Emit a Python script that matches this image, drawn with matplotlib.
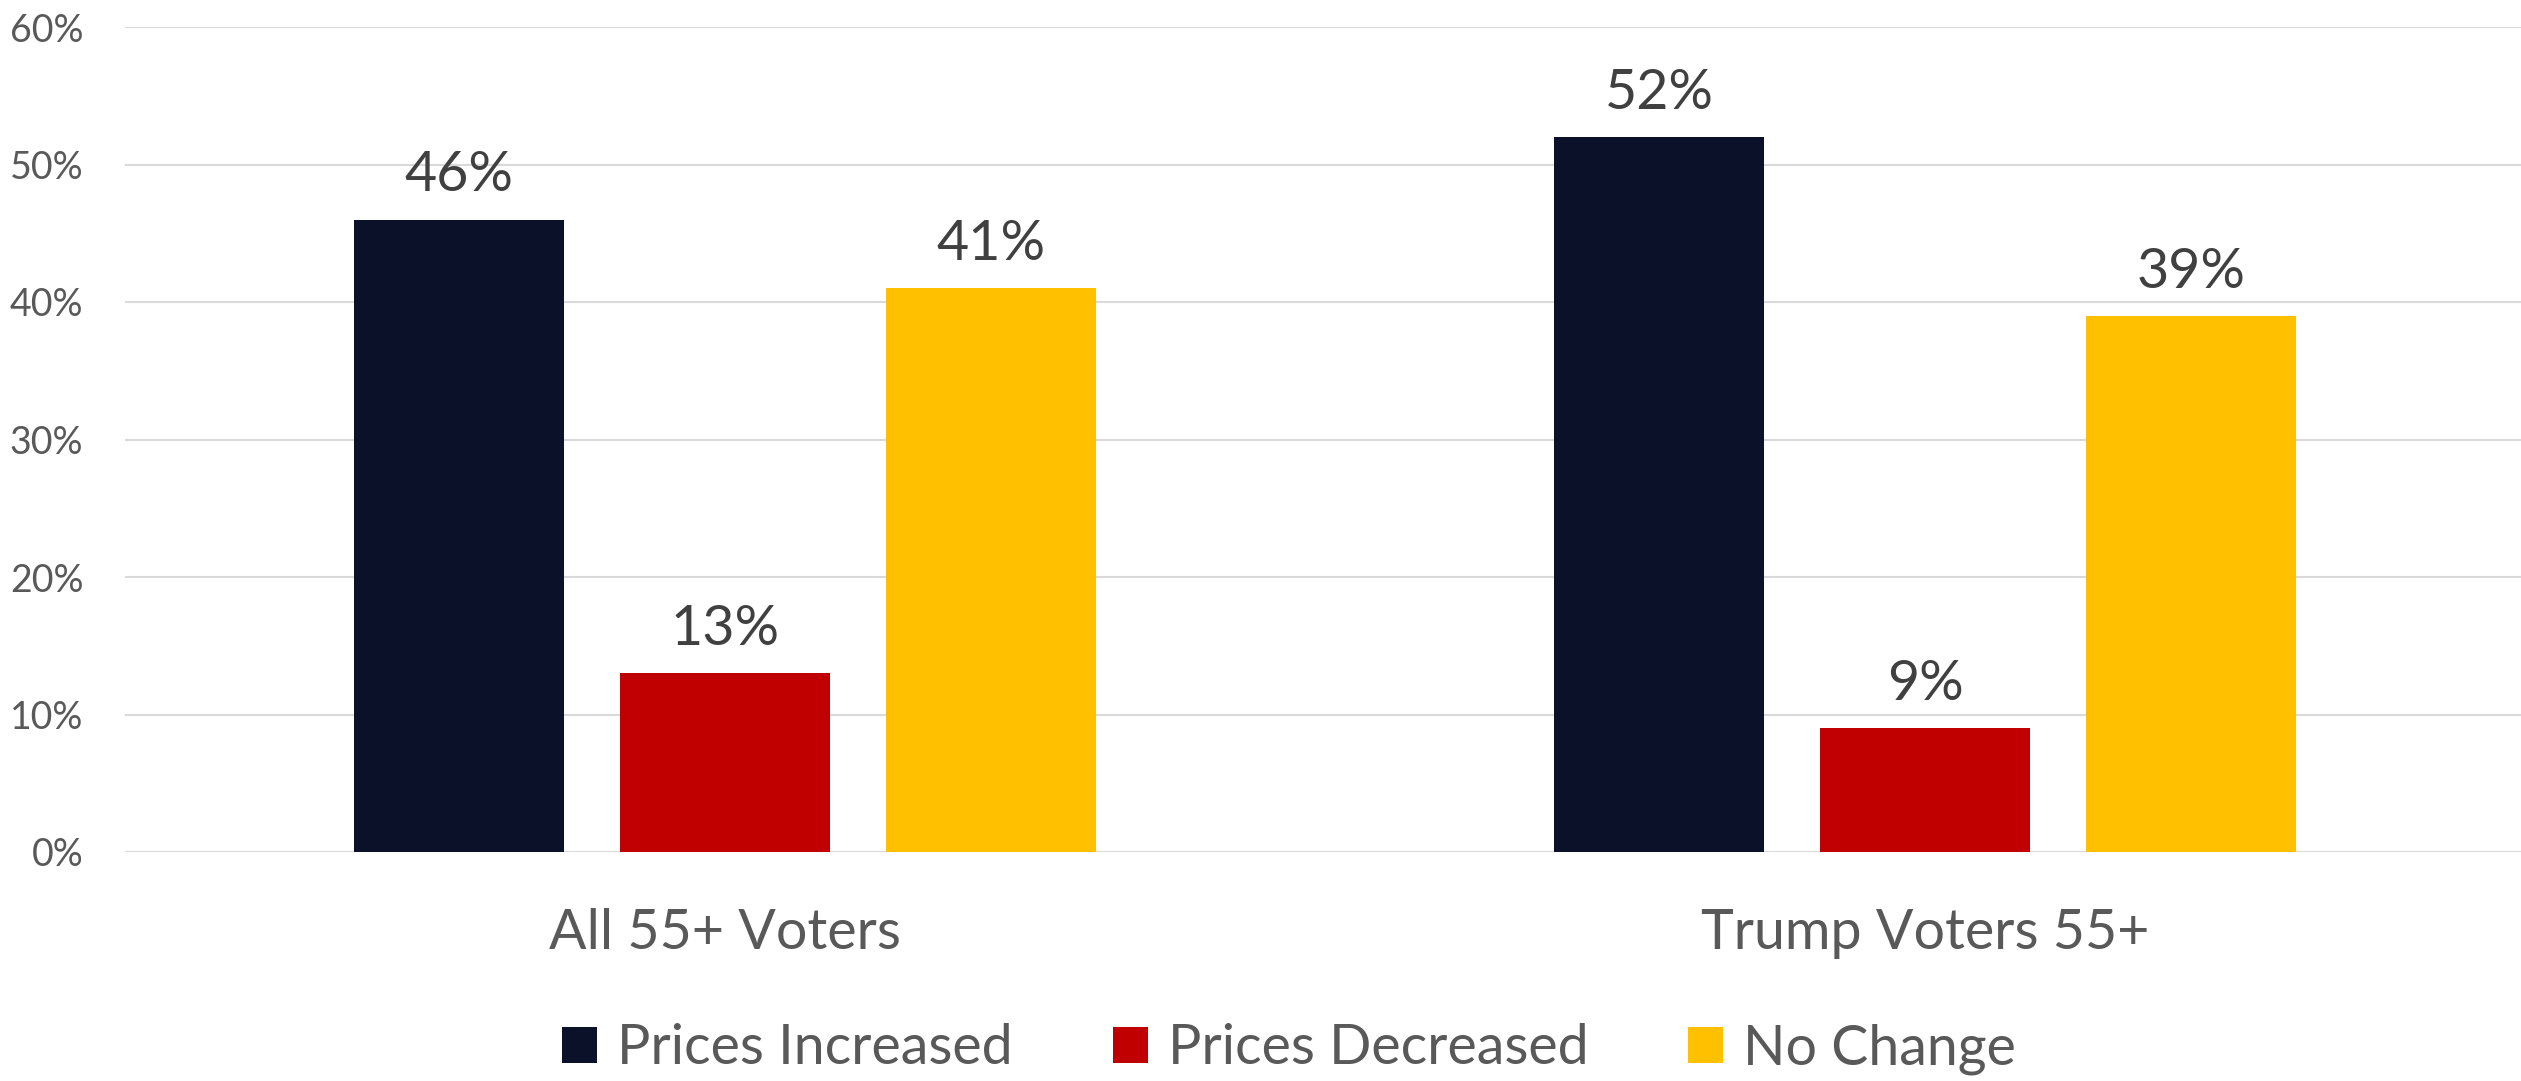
import numpy as np
import matplotlib
matplotlib.use("Agg")
import matplotlib.pyplot as plt

# Survey results: share of voters 55+ reporting price changes
groups = ["All 55+ Voters", "Trump Voters 55+"]
series = ["Prices Increased", "Prices Decreased", "No Change"]
increased = [46, 52]
decreased = [13, 9]
no_change = [41, 39]
values = [increased, decreased, no_change]
colors = ["#0A1129", "#C00000", "#FFC000"]
yticks = [0, 10, 20, 30, 40, 50, 60]

plt.rcParams["font.family"] = ["Lato", "DejaVu Sans"]

fig = plt.figure(figsize=(25.21, 10.81), dpi=100)
ax = fig.add_axes([125 / 2521, 229 / 1081, 2400 / 2521, 825 / 1081])

x = np.arange(len(groups))
width = 0.175
step = 0.2217
for i, (name, vals, col) in enumerate(zip(series, values, colors)):
    bars = ax.bar(x + (i - 1) * step, vals, width, color=col, label=name, zorder=2)
    ax.bar_label(bars, labels=[f"{v}%" for v in vals], padding=13,
                 fontsize=40, color="#404040")

ax.set_xlim(-0.5, 1.5)
ax.set_ylim(0, 60)
ax.set_yticks(yticks)
ax.set_yticklabels([f"{t}%" for t in yticks])
ax.set_xticks(x)
ax.set_xticklabels(groups)
ax.tick_params(axis="y", length=0, pad=30, labelsize=27, labelcolor="#595959")
ax.tick_params(axis="x", length=0, pad=40, labelsize=40, labelcolor="#595959")

ax.grid(axis="y", color="#D9D9D9", linewidth=1.5, zorder=0)
ax.set_axisbelow(True)
for s in ax.spines.values():
    s.set_visible(False)

fig.legend(loc="center", bbox_to_anchor=(1289 / 2521, 32 / 1081), ncol=3,
           frameon=False, fontsize=40, labelcolor="#595959",
           handlelength=0.63, handleheight=0.63, handletextpad=0.36,
           columnspacing=1.8, borderpad=0, borderaxespad=0)

fig.savefig("out.png", dpi=100, facecolor="white")
